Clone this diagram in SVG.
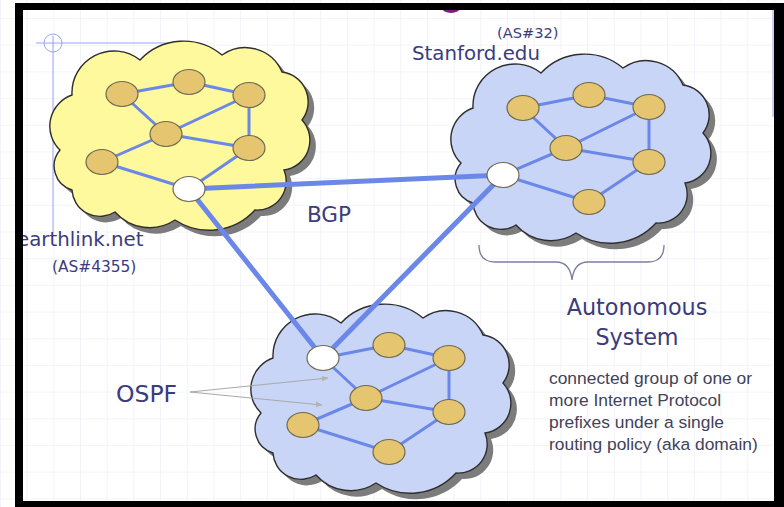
<svg xmlns="http://www.w3.org/2000/svg" width="784" height="507" viewBox="0 0 784 507">
<defs>
<style>
.shadow{fill:#7c7c7c}
.cl{stroke:#2e2e2e;stroke-width:1.4}
.yel{fill:#fdf99c}
.blu{fill:#c8d5f6}
.r{fill:#e6c570;stroke:#6e6a52;stroke-width:1.2}
.w{fill:#ffffff;stroke:#6e6a52;stroke-width:1.2}
.lk{stroke:#6b88e8;stroke-width:3;stroke-linecap:round}
.bgp{stroke:#6b88e8;stroke-width:5;stroke-linecap:round}
.t{font-family:"DejaVu Sans",Verdana,sans-serif;fill:#3b3b7d}
.d{font-family:"Liberation Sans",Arial,sans-serif;fill:#42425a;font-size:17.4px}
.guide{stroke:#9aa4ec;stroke-width:1;fill:none}
.ptr{stroke:#a8a8a8;stroke-width:1;fill:none}
</style>
<pattern id="grid" x="26.6" y="18" width="26.69" height="26.69" patternUnits="userSpaceOnUse">
<path d="M0,0 H26.69 M0,0 V26.69" stroke="#e9ebf6" stroke-width="1.2" fill="none"/>
</pattern>
<path id="cloud" d="M60,150 A33,33 0 0 1 72,95 A42,42 0 0 1 140,60 A60,60 0 0 1 222,55 A40,40 0 0 1 282,72 A30,30 0 0 1 302,120 A30,30 0 0 1 284,170 A29,29 0 0 1 255,210 A62,62 0 0 1 175,220 A46,46 0 0 1 115,212 A28,28 0 0 1 72,190 A25,25 0 0 1 60,150 Z"/>
<marker id="ah" viewBox="0 0 10 10" refX="9" refY="5" markerWidth="7" markerHeight="7" orient="auto">
<path d="M0,1 L10,5 L0,9 Z" fill="#b4b4b4"/>
</marker>
</defs>
<rect x="0" y="0" width="784" height="507" fill="#ffffff"/>
<rect x="0" y="0" width="784" height="507" fill="url(#grid)"/>
<ellipse cx="451" cy="8" rx="9" ry="5" fill="#7b1f7f"/>
<g id="guides">
<line class="guide" x1="36" y1="43" x2="192" y2="43"/>
<line class="guide" x1="53" y1="36" x2="53" y2="232"/>
<circle class="guide" cx="53" cy="43" r="9"/>
<line class="guide" x1="773" y1="10" x2="773" y2="117"/>
</g>
<g id="as-earthlink">
<use href="#cloud" class="shadow" transform="translate(6,6)"/>
<use href="#cloud" class="cl yel"/>
</g>
<g id="as-stanford">
<use href="#cloud" class="shadow" transform="translate(407,19)"/>
<use href="#cloud" class="cl blu" transform="translate(401,13)"/>
</g>
<g id="as-ospf">
<use href="#cloud" class="shadow" transform="translate(207,269)"/>
<use href="#cloud" class="cl blu" transform="translate(201,263)"/>
</g>
<g id="connectors">
<line class="lk" x1="122" y1="94" x2="189" y2="82"/>
<line class="lk" x1="189" y1="82" x2="249" y2="95"/>
<line class="lk" x1="122" y1="94" x2="166" y2="134"/>
<line class="lk" x1="166" y1="134" x2="249" y2="95"/>
<line class="lk" x1="249" y1="95" x2="249" y2="148"/>
<line class="lk" x1="166" y1="134" x2="249" y2="148"/>
<line class="lk" x1="166" y1="134" x2="102" y2="162"/>
<line class="lk" x1="102" y1="162" x2="189" y2="189"/>
<line class="lk" x1="189" y1="189" x2="249" y2="148"/>
<line class="lk" x1="523" y1="108" x2="589" y2="95"/>
<line class="lk" x1="589" y1="95" x2="649" y2="107"/>
<line class="lk" x1="523" y1="108" x2="566" y2="148"/>
<line class="lk" x1="566" y1="148" x2="649" y2="107"/>
<line class="lk" x1="649" y1="107" x2="649" y2="162"/>
<line class="lk" x1="566" y1="148" x2="649" y2="162"/>
<line class="lk" x1="503" y1="175" x2="566" y2="148"/>
<line class="lk" x1="503" y1="175" x2="589" y2="202"/>
<line class="lk" x1="589" y1="202" x2="649" y2="162"/>
<line class="lk" x1="323" y1="358" x2="389" y2="345"/>
<line class="lk" x1="389" y1="345" x2="449" y2="358"/>
<line class="lk" x1="323" y1="358" x2="366" y2="398"/>
<line class="lk" x1="366" y1="398" x2="449" y2="358"/>
<line class="lk" x1="449" y1="358" x2="449" y2="412"/>
<line class="lk" x1="366" y1="398" x2="449" y2="412"/>
<line class="lk" x1="303" y1="425" x2="366" y2="398"/>
<line class="lk" x1="303" y1="425" x2="389" y2="452"/>
<line class="lk" x1="389" y1="452" x2="449" y2="412"/>
<line class="bgp" x1="189" y1="189" x2="503" y2="175"/>
<line class="bgp" x1="189" y1="189" x2="323" y2="358"/>
<line class="bgp" x1="503" y1="175" x2="323" y2="358"/>
<line class="ptr" x1="190" y1="392" x2="328" y2="378" marker-end="url(#ah)"/>
<line class="ptr" x1="190" y1="392" x2="322" y2="405" marker-end="url(#ah)"/>
</g>
<g id="routers-earthlink">
<ellipse id="e1" class="r" cx="122" cy="94" rx="16" ry="12.5"/>
<ellipse id="e2" class="r" cx="189" cy="82" rx="16" ry="12.5"/>
<ellipse id="e3" class="r" cx="249" cy="95" rx="16" ry="12.5"/>
<ellipse id="e4" class="r" cx="166" cy="134" rx="16" ry="12.5"/>
<ellipse id="e5" class="r" cx="249" cy="148" rx="16" ry="12.5"/>
<ellipse id="e6" class="r" cx="102" cy="162" rx="16" ry="12.5"/>
<ellipse id="e-border" class="w" cx="189" cy="189" rx="16" ry="12.5"/>
</g>
<g id="routers-stanford">
<ellipse id="s1" class="r" cx="523" cy="108" rx="16" ry="12.5"/>
<ellipse id="s2" class="r" cx="589" cy="95" rx="16" ry="12.5"/>
<ellipse id="s3" class="r" cx="649" cy="107" rx="16" ry="12.5"/>
<ellipse id="s4" class="r" cx="566" cy="148" rx="16" ry="12.5"/>
<ellipse id="s5" class="r" cx="649" cy="162" rx="16" ry="12.5"/>
<ellipse id="s6" class="r" cx="589" cy="202" rx="16" ry="12.5"/>
<ellipse id="s-border" class="w" cx="503" cy="175" rx="16" ry="12.5"/>
</g>
<g id="routers-ospf">
<ellipse id="o1" class="r" cx="389" cy="345" rx="16" ry="12.5"/>
<ellipse id="o2" class="r" cx="449" cy="358" rx="16" ry="12.5"/>
<ellipse id="o3" class="r" cx="366" cy="398" rx="16" ry="12.5"/>
<ellipse id="o4" class="r" cx="449" cy="412" rx="16" ry="12.5"/>
<ellipse id="o5" class="r" cx="303" cy="425" rx="16" ry="12.5"/>
<ellipse id="o6" class="r" cx="389" cy="452" rx="16" ry="12.5"/>
<ellipse id="o-border" class="w" cx="323" cy="358" rx="16" ry="12.5"/>
</g>
<path id="brace" d="M479,245 Q479,262 495,262 L556,262 Q570,262 572,280 Q574,262 588,262 L648,262 Q664,262 664,245" fill="none" stroke="#7d7da0" stroke-width="1.3"/>
<g id="labels">
<text class="t" x="497" y="38" font-size="14.6">(AS#32)</text>
<text class="t" x="412" y="60" font-size="19.8">Stanford.edu</text>
<text class="t" x="17" y="246" font-size="19.8">earthlink.net</text>
<text class="t" x="52" y="272" font-size="15.4">(AS#4355)</text>
<text class="t" x="307" y="222" font-size="21.5">BGP</text>
<text class="t" x="116" y="402" font-size="23.5">OSPF</text>
<text class="t" x="637" y="315" font-size="22.3" text-anchor="middle">Autonomous</text>
<text class="t" x="637" y="345" font-size="22.3" text-anchor="middle">System</text>
<text class="d" x="549" y="384">connected group of one or</text>
<text class="d" x="549" y="406">more Internet Protocol</text>
<text class="d" x="549" y="428">prefixes under a single</text>
<text class="d" x="549" y="450">routing policy (aka domain)</text>
</g>
<path id="frame" d="M15,3 H784 V507 H15 Z M23,10 V501 H774 V10 Z" fill="#000000" fill-rule="evenodd"/>
</svg>
